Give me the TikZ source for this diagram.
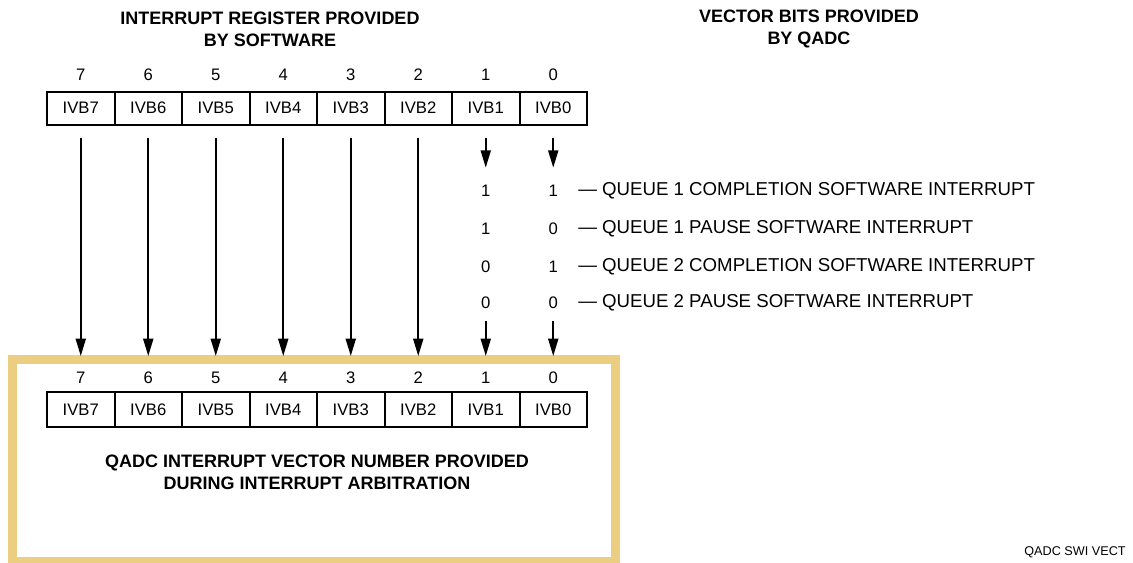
\documentclass[tikz,border=0pt]{standalone}
\usepackage{fontspec}
\setmainfont{Liberation Sans}
\usetikzlibrary{arrows.meta}
\definecolor{tan}{RGB}{236,206,130}
\begin{document}
\begin{tikzpicture}[x=0.75pt,y=-0.75pt,
  cell/.style={draw,line width=1.5pt,minimum width=50.625pt,inner sep=0pt,font=\fontsize{12.5}{14}\selectfont,anchor=north west},
  num/.style={font=\fontsize{12.5}{14}\selectfont,inner sep=0pt},
  ttl/.style={font=\bfseries\fontsize{13.5}{16.5}\selectfont,align=center,inner sep=0pt},
  lab/.style={font=\fontsize{14}{15}\selectfont,inner sep=0pt,anchor=west},
  arr/.style={line width=1.4pt,-{Triangle[length=13pt,width=7.5pt]}}]
\useasboundingbox (0,0) rectangle (1133,562);
% titles
\node[ttl] (t1) at (270,29) {INTERRUPT REGISTER PROVIDED\\BY SOFTWARE};
\node[ttl] (t2) at (809,29) {VECTOR BITS PROVIDED\\BY QADC};
% bottom tan box
\draw[tan,line width=6.75pt] (12.5,359.5) rectangle (615.5,561.5);
\coordinate (boxtop) at (0,356);
% registers
\foreach \i [count=\k from 0] in {7,6,5,4,3,2,1,0}{
  \node[cell,minimum height=24.75pt] (t\i) at (46+67.5*\k,90.5) {IVB\i};
  \node[num] (tn\i) at (t\i.north |- 0,75) {\i};
  \node[cell,minimum height=26.25pt] (b\i) at (46+67.5*\k,391) {IVB\i};
  \node[num] (bn\i) at (b\i.north |- 0,378) {\i};
}
% long arrows
\foreach \i in {7,6,5,4,3,2}{
  \draw[arr] ([yshift=-9pt]t\i.south) -- (t\i.south |- boxtop);
}
% vector bit rows
\node[num] (a1) at (t1.south |- 0,191) {1};
\node[num] (c1) at (t0.south |- 0,191) {1};
\node[lab] (l1) at (578,191) {— QUEUE 1 COMPLETION SOFTWARE INTERRUPT};
\node[num] (a2) at (t1.south |- 0,229) {1};
\node[num] (c2) at (t0.south |- 0,229) {0};
\node[lab] (l2) at (578,229) {— QUEUE 1 PAUSE SOFTWARE INTERRUPT};
\node[num] (a3) at (t1.south |- 0,267) {0};
\node[num] (c3) at (t0.south |- 0,267) {1};
\node[lab] (l3) at (578,267) {— QUEUE 2 COMPLETION SOFTWARE INTERRUPT};
\node[num] (a4) at (t1.south |- 0,303) {0};
\node[num] (c4) at (t0.south |- 0,303) {0};
\node[lab] (l4) at (578,303) {— QUEUE 2 PAUSE SOFTWARE INTERRUPT};
% short arrows
\draw[arr] ([yshift=-9pt]t1.south) -- ([yshift=13pt]a1.north);
\draw[arr] ([yshift=-9pt]t0.south) -- ([yshift=13pt]c1.north);
\draw[arr] ([yshift=-9pt]a4.south) -- (a4.south |- boxtop);
\draw[arr] ([yshift=-9pt]c4.south) -- (c4.south |- boxtop);
% bottom title
\node[ttl] (bt) at (317,472) {QADC INTERRUPT VECTOR NUMBER PROVIDED\\DURING INTERRUPT ARBITRATION};
\node[font=\fontsize{9.5}{11}\selectfont,inner sep=0pt] (tag) at (1075,552) {QADC SWI VECT};
\end{tikzpicture}
\end{document}
